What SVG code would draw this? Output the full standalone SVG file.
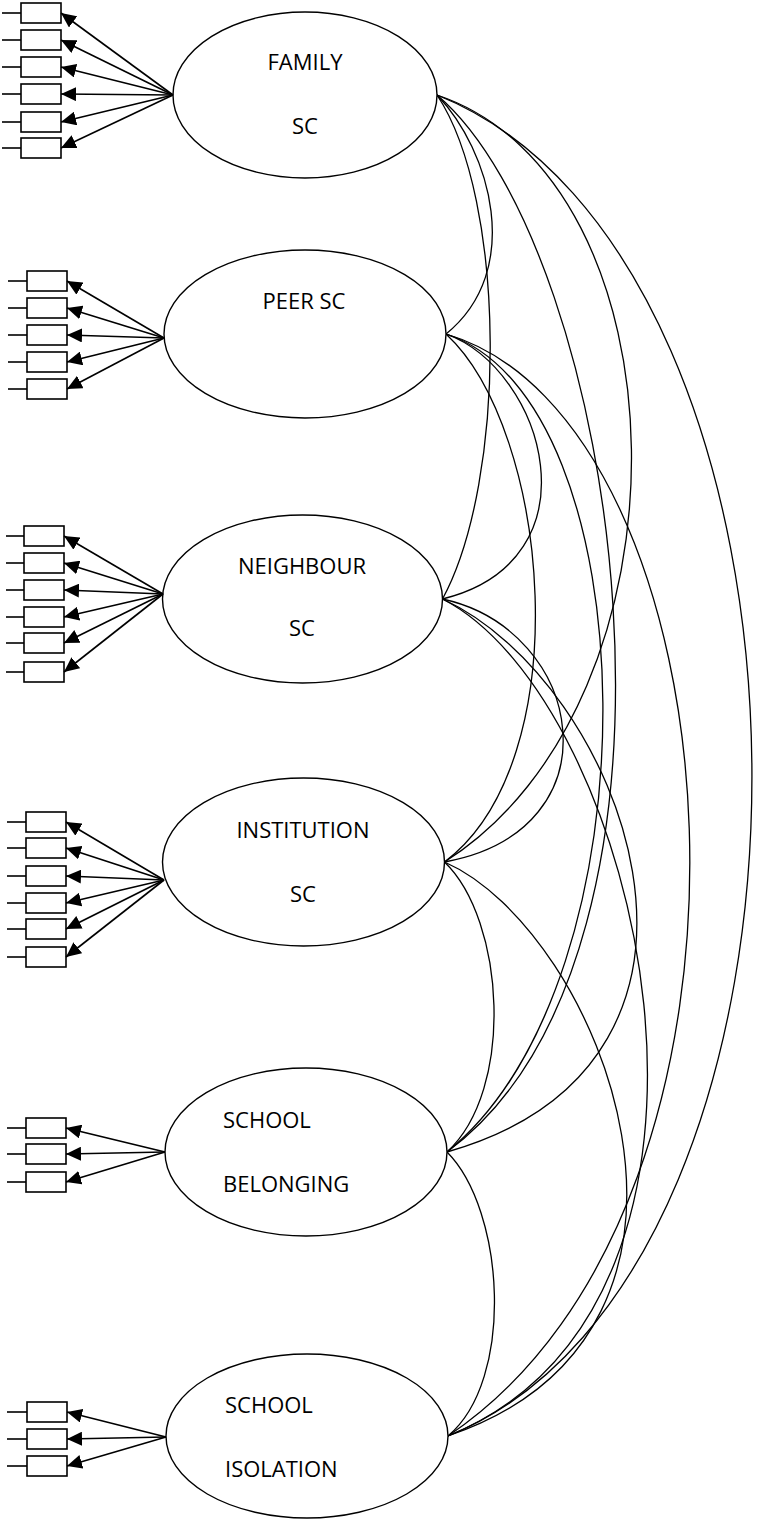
<svg xmlns="http://www.w3.org/2000/svg" width="760" height="1524" viewBox="0 0 760 1524">
<defs>
<marker id="ah" markerUnits="userSpaceOnUse" markerWidth="16" markerHeight="14" viewBox="0 0 16 14" refX="15" refY="7" orient="auto">
<path d="M0,0 L15,7 L0,14 Z" fill="#000"/>
</marker>
</defs>
<style>
.box{fill:#fff;stroke:#000;stroke-width:1.6}
.stub{stroke:#000;stroke-width:1.6}
.ld{stroke:#000;stroke-width:1.6;marker-end:url(#ah)}
.lat{fill:#fff;stroke:#000;stroke-width:1.4}
.cv{fill:none;stroke:#000;stroke-width:1.3}
.lbl{font-family:"Open Sans","Liberation Sans",sans-serif;font-size:22px;fill:#000}
.c{text-anchor:middle}
</style>
<rect width="760" height="1524" fill="#fff"/>

<g id="connectors">
<path class="cv" d="M437,95 C490,150 525,270 446,334"/>
<path class="cv" d="M437,95 C507,200 507,480 442.5,599"/>
<path class="cv" d="M437,95 C690,180 700,700 444.5,862"/>
<path class="cv" d="M437,95 C620,250 720,950 447,1152"/>
<path class="cv" d="M437,95 C850,260 860,1270 448,1436"/>
<path class="cv" d="M446,334 C545,370 600,560 442.5,599"/>
<path class="cv" d="M446,334 C550,430 580,760 444.5,862"/>
<path class="cv" d="M446,334 C650,400 660,980 447,1152"/>
<path class="cv" d="M446,334 C740,420 800,1200 448,1436"/>
<path class="cv" d="M442.5,599 C585,630 620,830 444.5,862"/>
<path class="cv" d="M442.5,599 C620,680 770,1060 447,1152"/>
<path class="cv" d="M442.5,599 C640,700 780,1300 448,1436"/>
<path class="cv" d="M444.5,862 C505,920 515,1090 447,1152"/>
<path class="cv" d="M444.5,862 C600,930 760,1330 448,1436"/>
<path class="cv" d="M447,1152 C505,1210 515,1380 448,1436"/>
</g>

<g id="family-sc">
<ellipse class="lat" cx="305" cy="95" rx="132" ry="83"/>
<text class="lbl c" x="305" y="70">FAMILY</text>
<text class="lbl c" x="305" y="134">SC</text>
<g id="family-indicators">
<line class="stub" x1="2" y1="13" x2="21" y2="13"/><rect class="box" x="21" y="3" width="40" height="20"/>
<line class="stub" x1="2" y1="40" x2="21" y2="40"/><rect class="box" x="21" y="30" width="40" height="20"/>
<line class="stub" x1="2" y1="67" x2="21" y2="67"/><rect class="box" x="21" y="57" width="40" height="20"/>
<line class="stub" x1="2" y1="94" x2="21" y2="94"/><rect class="box" x="21" y="84" width="40" height="20"/>
<line class="stub" x1="2" y1="122" x2="21" y2="122"/><rect class="box" x="21" y="112" width="40" height="20"/>
<line class="stub" x1="2" y1="148" x2="21" y2="148"/><rect class="box" x="21" y="138" width="40" height="20"/>
<line class="ld" x1="173" y1="95" x2="61" y2="13"/>
<line class="ld" x1="173" y1="95" x2="61" y2="40"/>
<line class="ld" x1="173" y1="95" x2="61" y2="67"/>
<line class="ld" x1="173" y1="95" x2="61" y2="94"/>
<line class="ld" x1="173" y1="95" x2="61" y2="122"/>
<line class="ld" x1="173" y1="95" x2="61" y2="148"/>
</g>
</g>

<g id="peer-sc">
<ellipse class="lat" cx="305" cy="334" rx="141" ry="84"/>
<text class="lbl c" x="304" y="309">PEER SC</text>
<g id="peer-indicators">
<line class="stub" x1="8" y1="281" x2="27" y2="281"/><rect class="box" x="27" y="271" width="40" height="20"/>
<line class="stub" x1="8" y1="308" x2="27" y2="308"/><rect class="box" x="27" y="298" width="40" height="20"/>
<line class="stub" x1="8" y1="335" x2="27" y2="335"/><rect class="box" x="27" y="325" width="40" height="20"/>
<line class="stub" x1="8" y1="362" x2="27" y2="362"/><rect class="box" x="27" y="352" width="40" height="20"/>
<line class="stub" x1="8" y1="389" x2="27" y2="389"/><rect class="box" x="27" y="379" width="40" height="20"/>
<line class="ld" x1="164" y1="338" x2="67" y2="281"/>
<line class="ld" x1="164" y1="338" x2="67" y2="308"/>
<line class="ld" x1="164" y1="338" x2="67" y2="335"/>
<line class="ld" x1="164" y1="338" x2="67" y2="362"/>
<line class="ld" x1="164" y1="338" x2="67" y2="389"/>
</g>
</g>

<g id="neighbour-sc">
<ellipse class="lat" cx="302.5" cy="599" rx="140" ry="84"/>
<text class="lbl c" x="302" y="574">NEIGHBOUR</text>
<text class="lbl c" x="302" y="636">SC</text>
<g id="neighbour-indicators">
<line class="stub" x1="6" y1="536" x2="24" y2="536"/><rect class="box" x="24" y="526" width="40" height="20"/>
<line class="stub" x1="6" y1="563" x2="24" y2="563"/><rect class="box" x="24" y="553" width="40" height="20"/>
<line class="stub" x1="6" y1="590" x2="24" y2="590"/><rect class="box" x="24" y="580" width="40" height="20"/>
<line class="stub" x1="6" y1="617" x2="24" y2="617"/><rect class="box" x="24" y="607" width="40" height="20"/>
<line class="stub" x1="6" y1="643" x2="24" y2="643"/><rect class="box" x="24" y="633" width="40" height="20"/>
<line class="stub" x1="6" y1="672" x2="24" y2="672"/><rect class="box" x="24" y="662" width="40" height="20"/>
<line class="ld" x1="163" y1="594" x2="64" y2="536"/>
<line class="ld" x1="163" y1="594" x2="64" y2="563"/>
<line class="ld" x1="163" y1="594" x2="64" y2="590"/>
<line class="ld" x1="163" y1="594" x2="64" y2="617"/>
<line class="ld" x1="163" y1="594" x2="64" y2="643"/>
<line class="ld" x1="163" y1="594" x2="64" y2="672"/>
</g>
</g>

<g id="institution-sc">
<ellipse class="lat" cx="303.5" cy="862" rx="141" ry="84"/>
<text class="lbl c" x="303" y="838">INSTITUTION</text>
<text class="lbl c" x="303" y="902">SC</text>
<g id="institution-indicators">
<line class="stub" x1="7" y1="822" x2="26" y2="822"/><rect class="box" x="26" y="812" width="40" height="20"/>
<line class="stub" x1="7" y1="848" x2="26" y2="848"/><rect class="box" x="26" y="838" width="40" height="20"/>
<line class="stub" x1="7" y1="876" x2="26" y2="876"/><rect class="box" x="26" y="866" width="40" height="20"/>
<line class="stub" x1="7" y1="903" x2="26" y2="903"/><rect class="box" x="26" y="893" width="40" height="20"/>
<line class="stub" x1="7" y1="929" x2="26" y2="929"/><rect class="box" x="26" y="919" width="40" height="20"/>
<line class="stub" x1="7" y1="957" x2="26" y2="957"/><rect class="box" x="26" y="947" width="40" height="20"/>
<line class="ld" x1="164" y1="880" x2="66" y2="822"/>
<line class="ld" x1="164" y1="880" x2="66" y2="848"/>
<line class="ld" x1="164" y1="880" x2="66" y2="876"/>
<line class="ld" x1="164" y1="880" x2="66" y2="903"/>
<line class="ld" x1="164" y1="880" x2="66" y2="929"/>
<line class="ld" x1="164" y1="880" x2="66" y2="957"/>
</g>
</g>

<g id="school-belonging">
<ellipse class="lat" cx="306" cy="1152" rx="141" ry="84"/>
<text class="lbl" x="223" y="1128">SCHOOL</text>
<text class="lbl" x="223" y="1192">BELONGING</text>
<g id="belonging-indicators">
<line class="stub" x1="7" y1="1128" x2="26" y2="1128"/><rect class="box" x="26" y="1118" width="40" height="20"/>
<line class="stub" x1="7" y1="1154" x2="26" y2="1154"/><rect class="box" x="26" y="1144" width="40" height="20"/>
<line class="stub" x1="7" y1="1182" x2="26" y2="1182"/><rect class="box" x="26" y="1172" width="40" height="20"/>
<line class="ld" x1="165" y1="1152" x2="66" y2="1128"/>
<line class="ld" x1="165" y1="1152" x2="66" y2="1154"/>
<line class="ld" x1="165" y1="1152" x2="66" y2="1182"/>
</g>
</g>

<g id="school-isolation">
<ellipse class="lat" cx="307" cy="1436" rx="141" ry="82"/>
<text class="lbl" x="225" y="1413">SCHOOL</text>
<text class="lbl" x="225" y="1477">ISOLATION</text>
<g id="isolation-indicators">
<line class="stub" x1="7" y1="1412" x2="27" y2="1412"/><rect class="box" x="27" y="1402" width="40" height="20"/>
<line class="stub" x1="7" y1="1439" x2="27" y2="1439"/><rect class="box" x="27" y="1429" width="40" height="20"/>
<line class="stub" x1="7" y1="1466" x2="27" y2="1466"/><rect class="box" x="27" y="1456" width="40" height="20"/>
<line class="ld" x1="166" y1="1437" x2="67" y2="1412"/>
<line class="ld" x1="166" y1="1437" x2="67" y2="1439"/>
<line class="ld" x1="166" y1="1437" x2="67" y2="1466"/>
</g>
</g>
</svg>
